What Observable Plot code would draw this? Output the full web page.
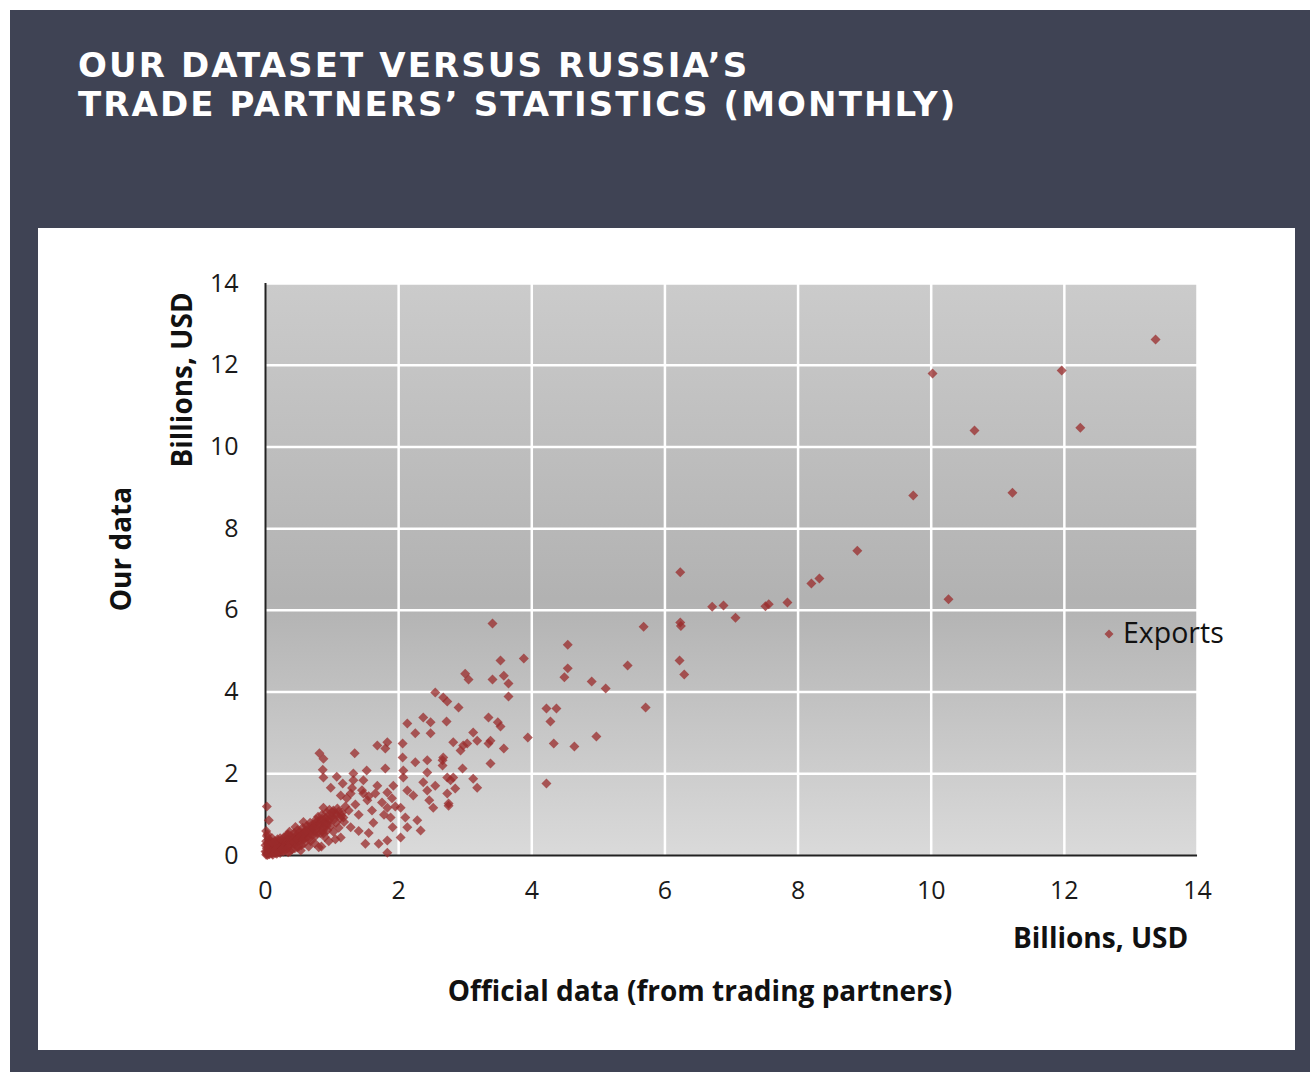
<!DOCTYPE html>
<html><head><meta charset="utf-8">
<script src="https://cdn.jsdelivr.net/npm/d3@7"></script>
<script src="https://cdn.jsdelivr.net/npm/@observablehq/plot@0.6"></script>
<style>
body{margin:0;width:1310px;height:1072px;background:#fff;position:relative;overflow:hidden;font-family:"Open Sans",sans-serif}
#bg{position:absolute;left:10px;top:10px;width:1300px;height:1062px;background:#3f4354}
#title{position:absolute;left:78px;top:46px;color:#fff;font:bold 34px/39px "DejaVu Sans",sans-serif;letter-spacing:2.1px}
#panel{position:absolute;left:38px;top:228px;width:1257px;height:822px;background:#fff}
#panel svg{position:absolute;left:0;top:0}
.lab{position:absolute;font-weight:bold;font-size:28px;color:#111;white-space:nowrap;line-height:1}
.rot{transform:translate(-50%,-50%) rotate(-90deg)}
.ctr{transform:translate(-50%,-50%)}
#legend{position:absolute;left:1103px;top:616px;font-size:28.5px;color:#111;white-space:nowrap;line-height:32px}
#legend svg{vertical-align:middle;margin-right:8px;position:relative;top:-1px}
</style></head>
<body>
<div id="bg"></div>
<div id="title">OUR DATASET VERSUS RUSSIA’S<br>TRADE PARTNERS’ STATISTICS (MONTHLY)</div>
<div id="panel"></div>
<div class="lab rot" style="left:181px;top:380px">Billions, USD</div>
<div class="lab rot" style="left:120px;top:549px">Our data</div>
<div class="lab" style="left:1013px;top:923px">Billions, USD</div>
<div class="lab ctr" style="left:700px;top:990px">Official data (from trading partners)</div>
<div id="legend"><svg width="12" height="12" viewBox="-6 -6 12 12"><path d="M0,-4.5L4.5,0L0,4.5L-4.5,0Z" fill="#9a2b2b" fill-opacity="0.75"/></svg>Exports</div>
<script>
// [official data (trading partners), our data], billions USD
const pointsLarge = [
 [13.37,12.63],[10.02,11.80],[11.96,11.87],[10.65,10.40],[12.24,10.47],[9.73,8.81],[11.22,8.88],
 [8.89,7.46],[6.23,6.93],[10.26,6.27],[6.71,6.09],[6.88,6.12],[7.06,5.82],[7.51,6.10],[7.56,6.15],
 [7.84,6.19],[8.20,6.66],[8.32,6.78],[5.68,5.60],[6.23,5.70],[6.24,5.62],[6.22,4.77],[6.29,4.43],
 [5.71,3.62],[5.44,4.65],[5.11,4.09],[4.90,4.26],[4.97,2.91],[4.64,2.67],[4.54,5.16],[4.54,4.58],
 [4.49,4.36],[4.22,3.60],[4.37,3.60],[4.28,3.28],[4.33,2.74],[4.22,1.76],[3.94,2.89],[3.88,4.82],
 [3.41,5.68],[3.53,4.77],[3.41,4.31],[3.58,4.40],[3.65,4.21],[3.65,3.89],[3.00,4.45],[3.05,4.31]
];
const pointsMid = [
 [0.81,2.50],[0.87,2.37],[1.34,2.50],[1.68,2.69],[1.83,2.77],[1.80,2.62],[2.06,2.74],[2.06,2.40],
 [2.13,3.23],[2.25,2.99],[2.37,3.38],[2.48,3.26],[2.48,2.99],[2.72,3.28],[2.55,3.99],[2.67,3.87],
 [2.73,3.77],[2.90,3.62],[0.86,2.10],[0.87,1.91],[1.07,1.93],[1.32,2.01],[1.52,2.08],[1.80,2.13],
 [2.07,2.08],[2.25,2.28],[2.43,2.33],[2.66,2.33],[2.67,2.40],[2.82,2.77],[2.93,2.57],[2.97,2.69],
 [3.03,2.74],[3.12,3.01],[3.35,3.38],[3.49,3.26],[3.53,3.16],[3.18,2.81],[3.38,2.81],[3.35,2.74],
 [3.58,2.62],[3.38,2.25],[2.96,2.13],[2.66,2.20],[2.43,2.03],[2.73,1.91],[2.78,1.84],[2.82,1.91],
 [3.12,1.88],[3.18,1.66],[2.85,1.64],[2.75,1.22],[2.73,1.52],[2.55,1.71],[2.37,1.79],[2.43,1.59],
 [2.46,1.35],[2.52,1.17],[2.75,1.27],[2.22,1.47],[2.13,1.59],[2.07,1.91],[1.92,1.71],[1.83,1.54],
 [1.68,1.71],[1.65,1.52],[1.47,1.84],[1.32,1.84],[1.16,1.76],[0.98,1.66],[1.13,1.47],[1.28,1.52],
 [1.47,1.52],[1.53,1.35],[1.83,1.17],[2.03,1.17],[2.10,0.93],[2.13,0.69],[1.88,0.93],[1.91,0.69],
 [2.33,0.61],[2.28,0.86],[2.03,0.44],[1.83,0.37],[1.50,0.29],[1.70,0.29],[1.83,0.07],[1.17,0.93],
 [1.28,0.69],[1.02,1.10],[0.87,1.17],[0.93,0.78],[1.13,0.44],[0.87,0.54],[0.80,0.20],[0.48,0.20],
 [0.02,1.20],[0.05,0.86],
 [1.25,1.10],[1.35,1.25],[1.40,1.00],[1.45,1.60],[1.55,1.45],[1.60,1.10],[1.62,0.80],[1.75,1.30],
 [1.78,1.00],[1.90,1.40],[1.95,1.20],[1.40,0.60],[1.55,0.55],[1.22,1.40],[1.30,1.65]
];
const pointsCluster = [
 [0.01,0.02],[0.02,0.05],[0.03,0.01],[0.05,0.08],[0.04,0.12],[0.06,0.03],[0.08,0.10],[0.07,0.15],
 [0.10,0.05],[0.09,0.20],[0.12,0.12],[0.11,0.02],[0.14,0.18],[0.13,0.08],[0.15,0.25],[0.16,0.10],
 [0.18,0.15],[0.17,0.04],[0.20,0.22],[0.19,0.30],[0.21,0.12],[0.23,0.18],[0.22,0.06],[0.25,0.27],
 [0.24,0.14],[0.26,0.33],[0.28,0.20],[0.27,0.10],[0.30,0.25],[0.29,0.36],[0.02,0.18],[0.03,0.28],
 [0.01,0.35],[0.05,0.40],[0.02,0.48],[0.04,0.22],[0.06,0.30],[0.08,0.35],[0.10,0.42],[0.12,0.30],
 [0.00,0.10],[0.00,0.25],[0.01,0.60],[0.03,0.52],[0.02,0.09],[0.04,0.04],[0.06,0.14],[0.09,0.07],
 [0.11,0.16],[0.13,0.22],[0.15,0.06],[0.17,0.20],[0.19,0.09],[0.21,0.26],[0.07,0.24],[0.05,0.17],
 [0.32,0.30],[0.33,0.18],[0.35,0.40],[0.36,0.26],[0.38,0.48],[0.39,0.33],[0.40,0.15],[0.42,0.42],
 [0.43,0.55],[0.44,0.28],[0.46,0.38],[0.47,0.50],[0.48,0.62],[0.50,0.35],[0.51,0.45],[0.52,0.58],
 [0.54,0.25],[0.55,0.50],[0.56,0.68],[0.58,0.40],[0.59,0.60],[0.60,0.52],[0.62,0.72],[0.63,0.45],
 [0.64,0.62],[0.66,0.55],[0.67,0.80],[0.68,0.35],[0.70,0.66],[0.34,0.52],[0.45,0.70],[0.57,0.82],
 [0.37,0.10],[0.53,0.12],[0.65,0.22],[0.31,0.40],[0.41,0.36],[0.49,0.44],[0.57,0.48],[0.61,0.60],
 [0.72,0.58],[0.73,0.75],[0.75,0.48],[0.76,0.88],[0.78,0.65],[0.79,0.95],[0.80,0.72],[0.82,0.55],
 [0.83,0.85],[0.85,1.00],[0.86,0.68],[0.88,0.80],[0.89,0.45],[0.90,0.92],[0.92,1.05],[0.93,0.62],
 [0.95,0.85],[0.96,1.12],[0.98,0.72],[1.00,0.95],[1.02,0.58],[1.04,1.02],[1.06,0.80],[1.08,1.15],
 [1.10,0.68],[1.12,0.92],[1.15,1.05],[1.18,0.82],[1.20,1.20],[0.74,0.30],[0.95,0.35],[0.84,0.22],
 [1.05,0.40],
 [0.35,0.22],[0.38,0.30],[0.40,0.38],[0.43,0.32],[0.45,0.45],[0.48,0.40],[0.50,0.55],[0.53,0.48],
 [0.55,0.38],[0.58,0.55],[0.60,0.45],[0.62,0.58],[0.65,0.70],[0.68,0.60],[0.70,0.75],[0.72,0.68],
 [0.75,0.80],[0.77,0.72],[0.80,0.85],[0.82,0.78],[0.85,0.90],[0.88,0.70],[0.90,0.82],[0.93,0.95],
 [0.97,0.90],[1.00,1.05],[1.03,0.88],[1.07,1.00],[1.10,1.08],[1.14,0.98],[0.26,0.40],[0.28,0.45],
 [0.33,0.50],[0.36,0.58],[0.20,0.35],[0.16,0.28],[0.12,0.20],[0.08,0.28],[0.05,0.30],[0.10,0.32],
 [0.14,0.35],[0.18,0.40],[0.22,0.42],[0.25,0.15],[0.30,0.12],[0.34,0.08],[0.44,0.18],[0.50,0.22],
 [0.58,0.30],[0.66,0.42],[0.71,0.50],[0.78,0.55],[0.86,0.60],[0.92,0.72]
];
const xTicks = [0,2,4,6,8,10,12,14];
const yTicks = [0,2,4,6,8,10,12,14];
const gradientStops = [[0,"#cbcbcb"],[0.55,"#b2b2b2"],[1,"#dadada"]];

const allPoints = [...pointsLarge, ...pointsMid, ...pointsCluster];

const plot = Plot.plot({
  width: 1257, height: 822,
  marginLeft: 227, marginRight: 98, marginTop: 55, marginBottom: 195,
  style: {fontFamily: "'Open Sans', sans-serif", fontSize: "25px", color: "#1a1a1a", background: "transparent", overflow: "visible"},
  x: {domain: [0, 14], ticks: xTicks},
  y: {domain: [0, 14], ticks: yTicks},
  marks: [
    Plot.frame({fill: "#c0c0c0", stroke: null}),
    Plot.gridX(xTicks.filter(d => d > 0), {stroke: "#fff", strokeOpacity: 1, strokeWidth: 2.5}),
    Plot.gridY(yTicks.filter(d => d > 0), {stroke: "#fff", strokeOpacity: 1, strokeWidth: 2.5}),
    Plot.axisX({ticks: xTicks, tickSize: 0, tickPadding: 26, label: null, tickFormat: d => String(d)}),
    Plot.axisY({ticks: yTicks, tickSize: 0, tickPadding: 27, label: null, tickFormat: d => String(d)}),
    Plot.ruleX([0], {stroke: "#222", strokeWidth: 2}),
    Plot.ruleY([0], {stroke: "#222", strokeWidth: 2}),
    Plot.dot(allPoints, {x: d => d[0], y: d => d[1], symbol: "diamond2", r: 4.5, fill: "#9a2b2b", fillOpacity: 0.75, stroke: "none"})
  ]
});

// gradient background for the plot frame
const ns = "http://www.w3.org/2000/svg";
const defs = document.createElementNS(ns, "defs");
const grad = document.createElementNS(ns, "linearGradient");
grad.setAttribute("id", "plotbg");
grad.setAttribute("x1", "0"); grad.setAttribute("y1", "0");
grad.setAttribute("x2", "0"); grad.setAttribute("y2", "1");
for (const [o, c] of gradientStops) {
  const s = document.createElementNS(ns, "stop");
  s.setAttribute("offset", o); s.setAttribute("stop-color", c);
  grad.appendChild(s);
}
defs.appendChild(grad);
plot.insertBefore(defs, plot.firstChild);
const frame = plot.querySelector('[aria-label="frame"]');
if (frame) {
  frame.setAttribute("fill", "url(#plotbg)");
  frame.querySelectorAll("rect").forEach(r => r.setAttribute("fill", "url(#plotbg)"));
}
document.getElementById("panel").appendChild(plot);
</script>
</body></html>
